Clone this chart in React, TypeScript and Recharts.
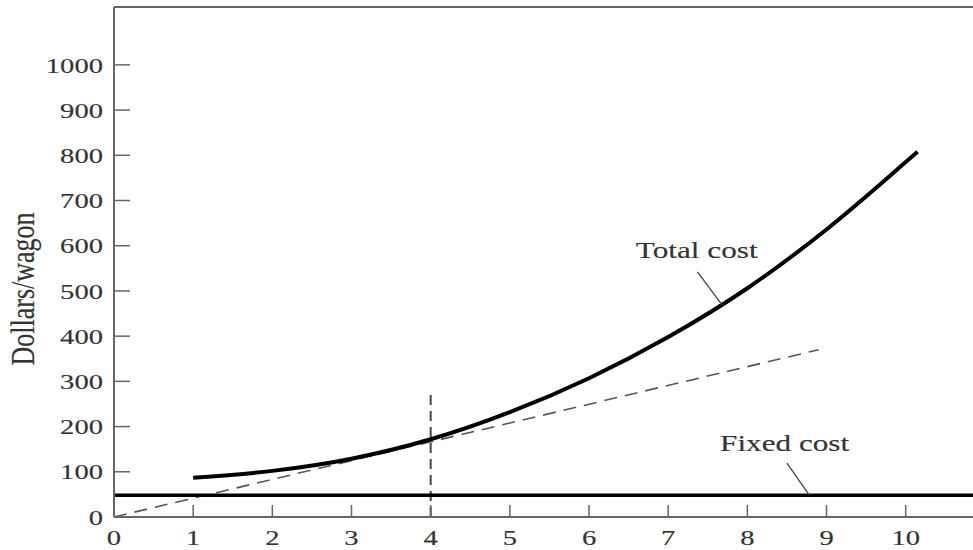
import React from 'react';
import { ComposedChart, Line, XAxis, YAxis, ReferenceLine, ReferenceDot } from 'recharts';

// total cost curve
const wagons = [1, 2, 3, 4, 5, 6, 7, 8, 9, 10, 10.15];
const totalCost = [87, 102, 129, 172, 232, 307, 398, 506, 636, 785, 808];

// fixed cost runs across the whole plot
const fixedX = [0, 10.85];
const fixedCost = [48, 48];

// dashed ray from the origin
const rayX = [0, 8.9];
const rayY = [0, 370];

// dashed marker at output 4
const markerX = [4, 4];
const markerY = [0, 272];

const xTicks = [0, 1, 2, 3, 4, 5, 6, 7, 8, 9, 10];
const yTicks = [0, 100, 200, 300, 400, 500, 600, 700, 800, 900, 1000];

const annotations = [
  { text: 'Total cost', x: 7.36, y: 591, from: { x: 7.37, y: 542 }, to: { x: 7.68, y: 469 } },
  { text: 'Fixed cost', x: 8.47, y: 164, from: { x: 8.5, y: 119 }, to: { x: 8.78, y: 49 } },
];

const zip = (xs: number[], ys: number[]) => xs.map((x, i) => ({ x, y: ys[i] }));

const SX = 1.3;
const font = '"Liberation Serif", "Times New Roman", serif';
const ink = '#333';
const axisGray = '#666';

const textStyle = { fill: ink, stroke: ink, strokeWidth: 0.15, fontFamily: font };

const YTick = ({ x, y, payload }: any) => (
  <g>
    <line x1={x} x2={x + 16} y1={y} y2={y} stroke={axisGray} strokeWidth={1.5} />
    <text
      transform={`translate(${x - 11},${y}) scale(${SX},1)`}
      textAnchor="end"
      dy="0.35em"
      fontSize={22}
      style={textStyle}
    >
      {payload.value}
    </text>
  </g>
);

const XTick = ({ x, y, payload }: any) => (
  <g>
    <line x1={x} x2={x} y1={y - 12} y2={y} stroke={axisGray} strokeWidth={1.5} />
    <text
      transform={`translate(${x},${y + 28}) scale(${SX},1)`}
      textAnchor="middle"
      fontSize={22}
      style={textStyle}
    >
      {payload.value}
    </text>
  </g>
);

const NoteLabel = ({ viewBox, text }: any) => (
  <text
    transform={`translate(${viewBox.x},${viewBox.y}) scale(${SX},1)`}
    textAnchor="middle"
    dy="0.35em"
    fontSize={24}
    style={textStyle}
  >
    {text}
  </text>
);

export default function App() {
  return (
    <div style={{ position: 'absolute', left: 0, top: 0, background: '#fff' }}>
      <ComposedChart width={973} height={550} margin={{ top: 7, right: 0, bottom: 3, left: 0 }}>
        <XAxis
          dataKey="x"
          type="number"
          domain={[0, 10.85]}
          ticks={xTicks}
          height={30}
          tickSize={0}
          tickMargin={0}
          tickLine={false}
          tick={<XTick />}
          axisLine={{ stroke: axisGray, strokeWidth: 2 }}
          allowDataOverflow
        />
        <YAxis
          type="number"
          domain={[0, 1128]}
          ticks={yTicks}
          width={114}
          tickSize={0}
          tickMargin={0}
          tickLine={false}
          tick={<YTick />}
          axisLine={{ stroke: axisGray, strokeWidth: 2 }}
          allowDataOverflow
          label={{
            content: () => (
              <text
                transform={`translate(22,289) scale(${SX},1) rotate(-90)`}
                textAnchor="middle"
                dy="0.35em"
                fontSize={26}
                style={textStyle}
              >
                Dollars/wagon
              </text>
            ),
          }}
        />
        <ReferenceLine y={1128} stroke={axisGray} strokeWidth={2} />

        <Line
          data={zip(markerX, markerY)}
          dataKey="y"
          stroke="#444"
          strokeWidth={2}
          strokeDasharray="10 6"
          dot={false}
          activeDot={false}
          isAnimationActive={false}
        />
        <Line
          data={zip(rayX, rayY)}
          dataKey="y"
          stroke="#555"
          strokeWidth={1.6}
          strokeDasharray="13 8"
          dot={false}
          activeDot={false}
          isAnimationActive={false}
        />
        <Line
          data={zip(fixedX, fixedCost)}
          dataKey="y"
          stroke="#000"
          strokeWidth={3.5}
          dot={false}
          activeDot={false}
          isAnimationActive={false}
        />
        <Line
          data={zip(wagons, totalCost)}
          dataKey="y"
          type="monotone"
          stroke="#000"
          strokeWidth={4}
          dot={false}
          activeDot={false}
          isAnimationActive={false}
        />

        {annotations.map((a) => (
          <ReferenceLine key={a.text + '-lead'} segment={[a.from, a.to]} stroke="#444" strokeWidth={1.3} />
        ))}
        {annotations.map((a) => (
          <ReferenceDot
            key={a.text}
            x={a.x}
            y={a.y}
            r={0}
            stroke="none"
            fill="none"
            label={<NoteLabel text={a.text} />}
          />
        ))}
      </ComposedChart>
    </div>
  );
}
